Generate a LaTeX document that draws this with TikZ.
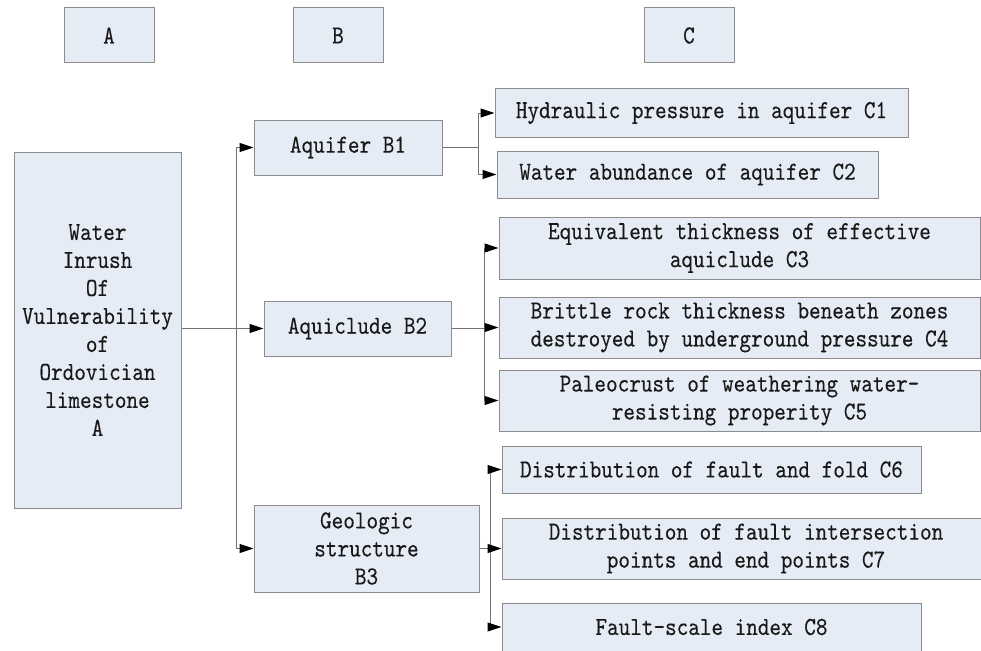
\documentclass[tikz,border=0pt]{standalone}
\usepackage{fontspec}
\usetikzlibrary{arrows.meta}
\newfontfamily\dmono{lmmono10-regular.otf}[FakeStretch=0.85,FakeBold=0.25]
\definecolor{boxfill}{RGB}{230,236,246}
\definecolor{boxline}{RGB}{140,140,140}
\definecolor{conline}{RGB}{115,115,115}
\definecolor{txt}{RGB}{25,25,25}
\tikzset{
  box/.style={draw=boxline, line width=1pt, fill=boxfill, inner sep=0pt, align=center,
    text=txt, font=\dmono\fontsize{26}{28}\selectfont},
  conn/.style={draw=conline, line width=1pt},
  arr/.style={conn, -{Triangle[length=14pt,width=9pt,color=black]}},
}
\begin{document}
\begin{tikzpicture}[x=1pt,y=-1pt]
\useasboundingbox (0,0) rectangle (981,650);
% header boxes
\node[box,minimum width=90pt,minimum height=55pt] (hA) at (109,35.5) {A};
\node[box,minimum width=90pt,minimum height=55pt] (hB) at (338,35.5) {B};
\node[box,minimum width=90pt,minimum height=55pt] (hC) at (689,35.5) {C};
% level A
\node[box,minimum width=167pt,minimum height=356pt] (A) at (97.5,330)
  {Water\\Inrush\\Of\\Vulnerability\\of\\Ordovician\\limestone\\A};
% level B
\node[box,minimum width=188pt,minimum height=55pt] (B1) at (348,147.5) {Aquifer B1};
\node[box,minimum width=187pt,minimum height=55pt] (B2) at (357.5,328.5) {Aquiclude B2};
\node[box,minimum width=225pt,minimum height=87pt] (B3) at (366.5,548.5) {Geologic\\structure\\B3};
% level C
\node[box,minimum width=413pt,minimum height=48pt] (C1) at (701.5,113) {Hydraulic pressure in aquifer C1};
\node[box,minimum width=381pt,minimum height=47pt] (C2) at (687.5,174.5) {Water abundance of aquifer C2};
\node[box,minimum width=481pt,minimum height=62pt] (C3) at (739.5,248) {Equivalent thickness of effective\\aquiclude C3};
\node[box,minimum width=481pt,minimum height=61pt] (C4) at (739.5,327.5) {Brittle rock thickness beneath zones\\destroyed by underground pressure C4};
\node[box,minimum width=481pt,minimum height=61pt] (C5) at (739.5,400.5) {Paleocrust of weathering water-\\resisting properity C5};
\node[box,minimum width=419pt,minimum height=47pt] (C6) at (711.5,469.5) {Distribution of fault and fold C6};
\node[box,minimum width=488pt,minimum height=61pt] (C7) at (746,548.5) {Distribution of fault intersection\\points and end points C7};
\node[box,minimum width=419pt,minimum height=48pt] (C8) at (711.5,627) {Fault-scale index C8};
% junction coordinates
\coordinate (tk) at (236,0);
\coordinate (j1) at (478,0);
\coordinate (j2) at (484,0);
\coordinate (j3) at (490,0);
% A to B
\draw[conn] (tk |- B1.west) -- (tk |- B3.west);
\draw[arr] (tk |- B1.west) -- (B1.west);
\draw[arr] (tk |- B3.west) -- (B3.west);
\draw[arr] (A.east |- B2.west) -- (B2.west);
% B1 to C
\draw[conn] (B1.east) -- (B1.east -| j1);
\draw[conn] (j1 |- C1.west) -- (j1 |- C2.west);
\draw[arr] (j1 |- C1.west) -- (C1.west);
\draw[arr] (j1 |- C2.west) -- (C2.west);
% B2 to C
\draw[conn] (B2.east) -- (B2.east -| j2);
\draw[conn] (j2 |- C3.west) -- (j2 |- C5.west);
\draw[arr] (j2 |- C3.west) -- (C3.west);
\draw[arr] (j2 |- C4.west) -- (C4.west);
\draw[arr] (j2 |- C5.west) -- (C5.west);
% B3 to C
\draw[conn] (B3.east) -- (B3.east -| j3);
\draw[conn] (j3 |- C6.west) -- (j3 |- C8.west);
\draw[arr] (j3 |- C6.west) -- (C6.west);
\draw[arr] (j3 |- C7.west) -- (C7.west);
\draw[arr] (j3 |- C8.west) -- (C8.west);
\end{tikzpicture}
\end{document}
